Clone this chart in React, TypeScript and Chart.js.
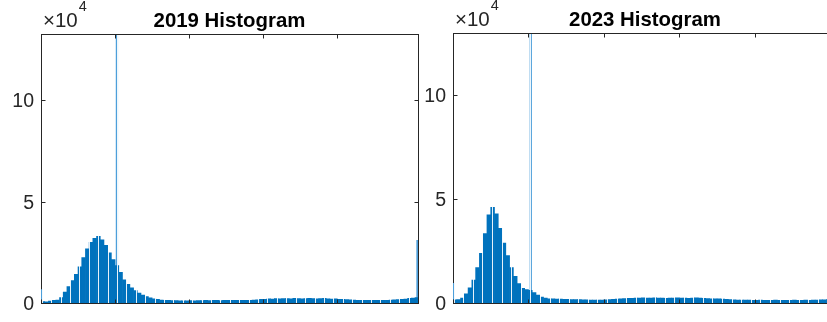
import React, { useEffect, useRef } from "react";
import { Chart, registerables } from "chart.js";

Chart.register(...registerables);

// ---------- data (counts in units of 10^4) ----------
const BIN_WIDTH = 0.05;
const X_MIN = 0;
const X_MAX = 5.09;
const X_TICK_STEP = 1;
const Y_TICK_STEP = 5;
const Y_EXPONENT = "4";

const TITLE_2019 = "2019 Histogram";
const TITLE_2023 = "2023 Histogram";

const COUNTS_2019 = [
  0.08, 0.07, 0.11, 0.14, 0.16, 0.28, 0.55, 0.82, 1.12, 1.42,
  1.8, 2.25, 2.68, 3.0, 3.2, 3.29, 3.12, 2.85, 2.48, 2.15,
  1.85, 1.52, 1.15, 0.93, 0.76, 0.62, 0.5, 0.4, 0.33, 0.27,
  0.22, 0.19, 0.16, 0.15, 0.14, 0.13, 0.13, 0.12, 0.12, 0.12,
  0.13, 0.12, 0.13, 0.13,
  0.14, 0.13, 0.14, 0.14, 0.13, 0.14, 0.15, 0.14, 0.14, 0.15, 0.14, 0.15, 0.15, 0.16, 0.17,
  0.19, 0.2, 0.22, 0.21, 0.23, 0.22, 0.23, 0.23, 0.22, 0.24, 0.23, 0.22,
  0.23, 0.24, 0.23, 0.22, 0.23, 0.24, 0.22, 0.21, 0.22, 0.2, 0.19, 0.18,
  0.17, 0.16, 0.15, 0.15, 0.14, 0.15, 0.14, 0.15, 0.15, 0.14, 0.15, 0.16, 0.17,
  0.18, 0.2, 0.21, 0.24, 0.26, 0.28,
];

const COUNTS_2023 = [
  0.17, 0.18, 0.25, 0.45, 0.75, 1.12, 1.72, 2.4, 3.35, 4.25,
  4.62, 4.3, 3.6, 2.9, 2.3, 1.72, 1.3, 0.95, 0.72, 0.66,
  0.62, 0.52, 0.4, 0.3, 0.25, 0.22,
  0.21, 0.2, 0.2, 0.19, 0.19, 0.18, 0.18, 0.18, 0.17, 0.17, 0.16, 0.16, 0.16,
  0.16, 0.17, 0.18, 0.19, 0.2, 0.22, 0.23, 0.24, 0.24,
  0.25, 0.25, 0.26, 0.25, 0.25, 0.26, 0.25, 0.25, 0.24, 0.25, 0.25, 0.26, 0.25, 0.25,
  0.24, 0.25, 0.26, 0.25, 0.24, 0.23, 0.22, 0.22, 0.21, 0.2, 0.19, 0.18, 0.17,
  0.16, 0.15, 0.15, 0.15, 0.14, 0.14, 0.15, 0.14, 0.14, 0.14, 0.15, 0.14, 0.14, 0.14,
  0.14, 0.15, 0.14, 0.14, 0.15, 0.14, 0.15, 0.16, 0.17, 0.17, 0.18, 0.18, 0.18,
];

// single very narrow bins (x position, count in 10^4)
const SPIKE_X_2019 = [0.007, 1.025, 5.083];
const SPIKE_COUNTS_2019 = [0.68, 14, 3.1];
const SPIKE_X_2023 = [0.007, 1.031];
const SPIKE_COUNTS_2023 = [0.96, 14];

const Y_MAX_2019 = 13.25;
const Y_MAX_2023 = 13.0;

// ---------- styles ----------
const FONT_FAMILY = '"Liberation Sans", Arial, Helvetica, sans-serif';
const AXIS_COLOR = "#262626";
const BAR_COLOR = "#0072BD";
const SPIKE_COLOR = "#4D9FDA";
const SEAM_OFFSET = 0.01;
const SEAM_STEP = 0.127;
const TICK_LEN = 4;

Chart.defaults.font.family = FONT_FAMILY;

function frameCoords(a: any) {
  return {
    L: Math.floor(a.left) + 0.5,
    R: Math.floor(a.right) + 0.5,
    T: Math.floor(a.top) + 0.5,
    B: Math.floor(a.bottom) + 0.5,
  };
}

const matlabAxesPlugin = {
  id: "matlabAxes",
  beforeDatasetsDraw(chart: any) {
    const { ctx, chartArea: a } = chart;
    const { L, R, T, B } = frameCoords(a);
    ctx.save();
    ctx.strokeStyle = AXIS_COLOR;
    ctx.lineWidth = 1;
    ctx.beginPath();
    ctx.moveTo(L, B);
    ctx.lineTo(L, T);
    ctx.moveTo(R, T);
    ctx.lineTo(R, B);
    ctx.stroke();
    ctx.restore();
  },
  afterDatasetDraw(chart: any, args: any) {
    if (args.index !== 0) return;
    const { ctx, chartArea: a } = chart;
    const xs = chart.scales.x;
    ctx.save();
    ctx.beginPath();
    ctx.rect(a.left + 1, a.top + 1, a.right - a.left - 2, a.bottom - a.top - 1);
    ctx.clip();
    ctx.strokeStyle = "rgba(255,255,255,0.9)";
    ctx.lineWidth = 1;
    for (let v = SEAM_OFFSET; v < X_MAX; v += SEAM_STEP) {
      const px = Math.round(xs.getPixelForValue(v)) + 0.5;
      ctx.beginPath();
      ctx.moveTo(px, a.top);
      ctx.lineTo(px, a.bottom);
      ctx.stroke();
    }
    ctx.restore();
  },
  afterDraw(chart: any, _args: any, opts: any) {
    const { ctx, chartArea: a } = chart;
    const xs = chart.scales.x;
    const ys = chart.scales.y;
    const { L, R, T, B } = frameCoords(a);
    ctx.save();
    ctx.strokeStyle = AXIS_COLOR;
    ctx.lineWidth = 1;
    ctx.beginPath();
    ctx.moveTo(L - 0.5, B);
    ctx.lineTo(R + 0.5, B);
    ctx.moveTo(L - 0.5, T);
    ctx.lineTo(R + 0.5, T);
    for (const t of xs.ticks) {
      const px = Math.round(xs.getPixelForValue(t.value)) + 0.5;
      ctx.moveTo(px, B);
      ctx.lineTo(px, B - TICK_LEN);
      ctx.moveTo(px, T);
      ctx.lineTo(px, T + TICK_LEN);
    }
    for (const t of ys.ticks) {
      const py = Math.round(ys.getPixelForValue(t.value)) + 0.5;
      ctx.moveTo(L, py);
      ctx.lineTo(L + TICK_LEN, py);
      ctx.moveTo(R, py);
      ctx.lineTo(R - TICK_LEN, py);
    }
    ctx.stroke();

    // title, centred over the axes
    ctx.fillStyle = "#000000";
    ctx.textBaseline = "alphabetic";
    ctx.textAlign = "center";
    ctx.font = `bold 20.4px ${FONT_FAMILY}`;
    ctx.fillText(opts.title, (a.left + a.right) / 2, a.top - 7);

    // exponent label
    ctx.fillStyle = AXIS_COLOR;
    ctx.textAlign = "left";
    ctx.font = `20.5px ${FONT_FAMILY}`;
    const base = "\u00D710";
    ctx.fillText(base, a.left + 2, a.top - 7);
    const w = ctx.measureText(base).width;
    ctx.font = `14.5px ${FONT_FAMILY}`;
    ctx.fillText(Y_EXPONENT, a.left + 2 + w + 1, a.top - 23.5);
    ctx.restore();
  },
};

function makeConfig(
  counts: number[],
  spikeX: number[],
  spikeCounts: number[],
  yMax: number,
  title: string,
  padTop: number,
  yAxisWidth: number,
  padRight: number,
  padBottom: number
): any {
  const centers = counts.map((_, i) => X_MIN + (i + 0.5) * BIN_WIDTH);
  return {
    type: "bar",
    data: {
      datasets: [
        {
          data: counts.map((c, i) => ({ x: centers[i], y: c })),
          backgroundColor: BAR_COLOR,
          borderWidth: 0,
          barPercentage: 1,
          categoryPercentage: 1,
          grouped: false,
          clip: 0,
          xAxisID: "x",
        },
        {
          data: spikeX.map((x, j) => ({ x, y: spikeCounts[j] })),
          backgroundColor: SPIKE_COLOR,
          borderWidth: 0,
          barThickness: 1.6,
          grouped: false,
          clip: 0,
          xAxisID: "x2",
        },
      ],
    },
    options: {
      animation: false,
      responsive: false,
      events: [],
      layout: { padding: { left: 0, top: padTop, right: padRight, bottom: padBottom } },
      plugins: {
        legend: { display: false },
        tooltip: { enabled: false },
        title: { display: false },
        matlabAxes: { title },
      },
      scales: {
        x: {
          type: "linear",
          min: X_MIN,
          max: X_MAX,
          offset: false,
          ticks: { display: false, stepSize: X_TICK_STEP },
          grid: { display: false },
          border: { display: false },
          afterFit: (s: any) => {
            s.height = 0;
          },
        },
        x2: {
          type: "linear",
          display: false,
          min: X_MIN,
          max: X_MAX,
          offset: false,
        },
        y: {
          type: "linear",
          min: 0,
          max: yMax,
          ticks: {
            stepSize: Y_TICK_STEP,
            includeBounds: false,
            padding: 7,
            labelOffset: 1.5,
            color: AXIS_COLOR,
            font: { size: 19.5 },
          },
          grid: { display: false, drawTicks: false },
          border: { display: false },
          afterFit: (s: any) => {
            s.width = yAxisWidth;
          },
        },
      },
    },
    plugins: [matlabAxesPlugin],
  };
}

export default function App() {
  const leftRef = useRef<HTMLCanvasElement>(null);
  const rightRef = useRef<HTMLCanvasElement>(null);

  useEffect(() => {
    document.body.style.margin = "0";
    const c1 = new Chart(
      leftRef.current!,
      makeConfig(COUNTS_2019, SPIKE_X_2019, SPIKE_COUNTS_2019, Y_MAX_2019, TITLE_2019, 34, 41, 22, 14)
    );
    const c2 = new Chart(
      rightRef.current!,
      makeConfig(COUNTS_2023, SPIKE_X_2023, SPIKE_COUNTS_2023, Y_MAX_2023, TITLE_2023, 33, 40, 16, 15)
    );
    return () => {
      c1.destroy();
      c2.destroy();
    };
  }, []);

  return (
    <div
      style={{
        position: "fixed",
        left: 0,
        top: 0,
        width: 827,
        height: 322,
        overflow: "hidden",
        background: "#ffffff",
      }}
    >
      <canvas
        ref={leftRef}
        width={440}
        height={322}
        style={{ position: "absolute", left: 0, top: 0, width: 440, height: 322 }}
      />
      <canvas
        ref={rightRef}
        width={440}
        height={322}
        style={{ position: "absolute", left: 413, top: 0, width: 440, height: 322 }}
      />
    </div>
  );
}
